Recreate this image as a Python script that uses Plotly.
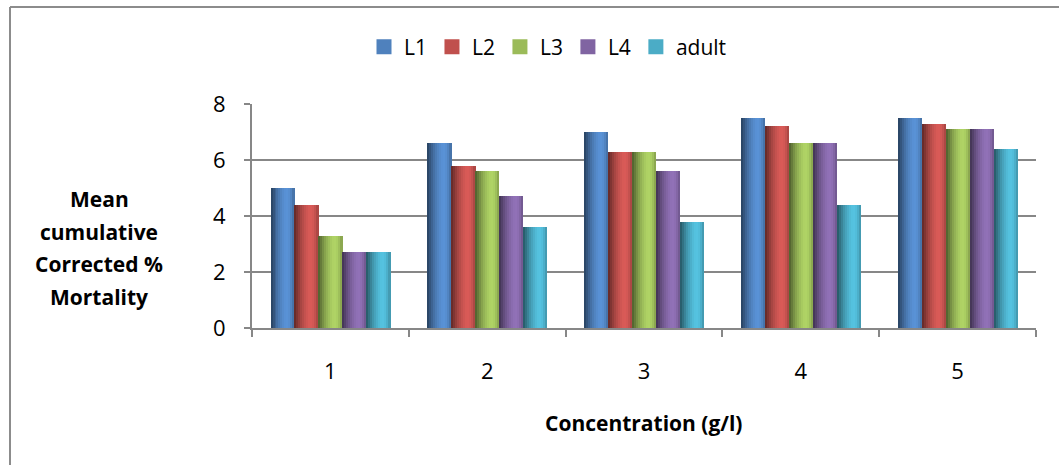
import plotly.graph_objects as go

# Concentration levels (g/l) and mean cumulative corrected % mortality per stage
concentrations = [1, 2, 3, 4, 5]
series_names = ["L1", "L2", "L3", "L4", "adult"]
l1 = [5.0, 6.6, 7.0, 7.5, 7.5]
l2 = [4.4, 5.8, 6.3, 7.2, 7.3]
l3 = [3.3, 5.6, 6.3, 6.6, 7.1]
l4 = [2.7, 4.7, 5.6, 6.6, 7.1]
adult = [2.7, 3.6, 3.8, 4.4, 6.4]
series_values = [l1, l2, l3, l4, adult]
y_ticks = [0, 2, 4, 6, 8]

base_colors = [(79, 129, 189), (192, 80, 77), (155, 187, 89), (128, 100, 162), (75, 172, 198)]

W, H = 1059, 465
L, R, T, B = 252, 23, 104, 137
PW, PH = W - L - R, H - T - B


def px_x(p):
    return (p - L) / PW


def px_y(p):
    return (H - B - p) / PH


def shade(rgb, m):
    return "rgb({},{},{})".format(*[max(0, min(255, int(round(c * m)))) for c in rgb])


# cylinder-like shading across the bar width: dark left edge, bright right of centre
strip_mult = [0.55, 0.66, 0.77, 0.87, 0.95, 1.02, 1.08, 1.12, 1.13, 1.1, 1.02, 0.9]

group_w = 0.764
bar_w = group_w / len(series_names)
n_strips = len(strip_mult)
strip_w = bar_w / n_strips

fig = go.Figure()
for i, (name, vals, rgb) in enumerate(zip(series_names, series_values, base_colors)):
    left = -group_w / 2 + i * bar_w
    fig.add_trace(go.Bar(
        x=concentrations, y=vals, name=name, legendgroup=name,
        offset=left, width=bar_w,
        marker=dict(color=shade(rgb, 1.0), line=dict(width=0)),
        showlegend=False,
    ))
    for k, m in enumerate(strip_mult):
        fig.add_trace(go.Bar(
            x=concentrations, y=vals, legendgroup=name,
            offset=left + k * strip_w, width=strip_w * 1.15,
            marker=dict(color=shade(rgb, m), line=dict(width=0)),
            showlegend=False, hoverinfo="skip",
        ))
    # legend key: flat square swatch in the series colour
    fig.add_trace(go.Scatter(
        x=[None], y=[None], mode="markers", name=name, legendgroup=name,
        marker=dict(symbol="square", size=15, color=shade(rgb, 1.0)),
        showlegend=True,
    ))

grey = "#878787"
font_family = "'Open Sans', sans-serif"

fig.update_layout(
    width=W, height=H,
    margin=dict(l=L, r=R, t=T, b=B),
    paper_bgcolor="white", plot_bgcolor="white",
    barmode="overlay", bargap=0,
    font=dict(family=font_family, size=22, color="black"),
    showlegend=True,
    legend=dict(
        orientation="h", xref="container", yref="container",
        x=548 / W, xanchor="center", y=1 - 47 / H, yanchor="middle",
        font=dict(size=21), itemwidth=30, traceorder="normal",
    ),
    xaxis=dict(
        range=[0.5, 5.5], tickvals=concentrations, ticktext=[str(c) for c in concentrations],
        ticks="", showgrid=False, zeroline=False,
        showline=True, linecolor=grey, linewidth=2,
        ticklabelstandoff=23,
        minor=dict(tickvals=[c - 0.5 for c in concentrations] + [concentrations[-1] + 0.5],
                   ticks="outside", ticklen=7, tickcolor=grey, tickwidth=2, showgrid=False),
    ),
    yaxis=dict(
        range=[0, 8], tickvals=y_ticks,
        ticks="outside", ticklen=6, tickcolor=grey, tickwidth=2,
        showgrid=True, gridcolor=grey, gridwidth=2,
        zeroline=False, showline=True, linecolor=grey, linewidth=2,
        ticklabelstandoff=14,
    ),
)

# axis titles
y_title_lines = ["Mean", "cumulative", "Corrected %", "Mortality"]
for j, line in enumerate(y_title_lines):
    fig.add_annotation(
        text="<b>" + line + "</b>", xref="paper", yref="paper",
        x=px_x(99), y=px_y(199 + j * 32.7), xanchor="center", yanchor="middle",
        showarrow=False, font=dict(size=21, family=font_family),
    )
fig.add_annotation(
    text="<b>Concentration (g/l)</b>", xref="paper", yref="paper",
    x=px_x(644), y=px_y(423), xanchor="center", yanchor="middle",
    showarrow=False, font=dict(size=21, family=font_family),
)

# chart frame (left and top edges)
fig.add_shape(type="line", xref="paper", yref="paper",
              x0=px_x(10), x1=px_x(10), y0=px_y(7), y1=px_y(480),
              line=dict(color="#8c8c8c", width=2))
fig.add_shape(type="line", xref="paper", yref="paper",
              x0=px_x(10), x1=px_x(1080), y0=px_y(7), y1=px_y(7),
              line=dict(color="#8c8c8c", width=2))

fig.write_html("out.html")
